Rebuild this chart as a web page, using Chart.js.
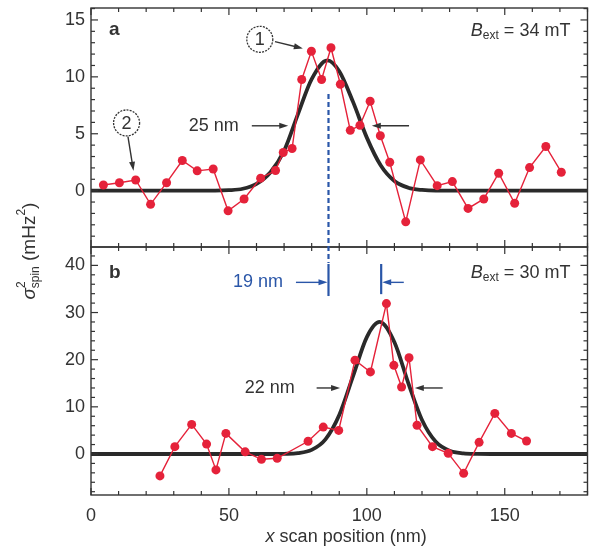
<!DOCTYPE html>
<html>
<head>
<meta charset="utf-8">
<script src="https://cdn.jsdelivr.net/npm/chart.js@4"></script>
<style>
  html, body { margin: 0; padding: 0; background: #fff; }
</style>
</head>
<body>
<canvas id="spin-chart" width="592" height="548"></canvas>
<script>
// panel a, B_ext = 34 mT
var aX = [4.5, 10.3, 16.2, 21.6, 27.4, 33.1, 38.5, 44.3, 49.7, 55.5, 61.5, 66.9, 69.7, 72.9, 76.4, 79.9, 83.6, 87.0, 90.4, 94.0, 97.5, 101.2, 104.9, 108.3, 114.1, 119.4, 125.5, 131.0, 136.7, 142.4, 147.8, 153.6, 159.0, 164.9, 170.5];
var aY = [0.5, 0.7, 0.94, -1.2, 0.7, 2.65, 1.74, 1.9, -1.77, -0.73, 1.1, 1.77, 3.35, 3.7, 9.77, 12.25, 9.77, 12.56, 9.35, 5.3, 5.74, 7.86, 4.83, 2.5, -2.74, 2.7, 0.44, 0.8, -1.56, -0.73, 1.53, -1.11, 2.03, 3.88, 1.62];
var aFitX = [0, 45, 50, 55, 60, 65, 70, 75, 80, 85.7, 90, 95, 100, 105, 110, 115, 120, 125, 180];
var aFitY = [0, 0, 0.04, 0.17, 0.6, 1.6, 3.5, 6.7, 9.8, 11.45, 10.5, 7.8, 4.66, 2.23, 0.85, 0.26, 0.06, 0, 0];

// panel b, B_ext = 30 mT
var bX = [25, 30.4, 36.5, 41.9, 45.3, 48.9, 55.9, 61.8, 67.5, 78.7, 84.2, 89.8, 95.7, 101.3, 107.1, 109.8, 112.6, 115.3, 118.2, 123.8, 129.5, 135.1, 140.7, 146.4, 152.4, 157.9];
var bY = [-4.65, 1.55, 6.27, 2.1, -3.38, 4.37, 0.45, -1.13, -0.92, 2.7, 5.7, 5.0, 19.9, 17.4, 31.9, 18.8, 14.2, 20.4, 6.1, 1.55, 0.14, -4.1, 2.47, 8.6, 4.37, 2.75];
var bFitX = [0, 65, 70, 75, 80, 85, 90, 95, 100, 104.6, 110, 115, 120, 125, 130, 135, 140, 145, 180];
var bFitY = [0, 0, 0.03, 0.18, 0.87, 3.1, 8.26, 16.5, 24.8, 28, 23.7, 15.1, 7.2, 2.58, 0.69, 0.14, 0.02, 0, 0];

// tick labels
var xTicks = [0, 50, 100, 150];
var aTicks = [0, 5, 10, 15];
var bTicks = [0, 10, 20, 30, 40];

var RED = "#e5223a";
var INK = "#333";
var BLUE = "#2a56a8";
var FONT = "'Liberation Sans', Arial, sans-serif";

function pts(xs, ys) {
  return xs.map(function (x, i) { return { x: x, y: ys[i] }; });
}

function fixTicks(list) {
  return function (scale) {
    scale.ticks = list.map(function (v) { return { value: v }; });
  };
}

// no extra room for the end labels, the frame is placed by layout.padding
function fitBox(w, h) {
  return function (s) {
    if (w) s.width = w;
    if (h) s.height = h;
    s.paddingTop = s.paddingBottom = s.paddingLeft = s.paddingRight = 0;
  };
}

function arrow(ctx, x0, y0, x1, y1, color) {
  var ang = Math.atan2(y1 - y0, x1 - x0);
  ctx.strokeStyle = color;
  ctx.fillStyle = color;
  ctx.lineWidth = 1.4;
  ctx.beginPath();
  ctx.moveTo(x0, y0);
  ctx.lineTo(x1 - 6 * Math.cos(ang), y1 - 6 * Math.sin(ang));
  ctx.stroke();
  ctx.beginPath();
  ctx.moveTo(x1, y1);
  ctx.lineTo(x1 - 9 * Math.cos(ang) + 3 * Math.sin(ang), y1 - 9 * Math.sin(ang) - 3 * Math.cos(ang));
  ctx.lineTo(x1 - 9 * Math.cos(ang) - 3 * Math.sin(ang), y1 - 9 * Math.sin(ang) + 3 * Math.cos(ang));
  ctx.closePath();
  ctx.fill();
}

function line(ctx, x0, y0, x1, y1) {
  ctx.beginPath();
  ctx.moveTo(x0, y0);
  ctx.lineTo(x1, y1);
  ctx.stroke();
}

// draw runs of [text, style] left to right, returns width
function runs(ctx, parts, x, y, measureOnly) {
  var w = 0;
  parts.forEach(function (p) {
    ctx.font = p.f;
    if (!measureOnly) ctx.fillText(p.t, x + w, y + (p.dy || 0));
    w += ctx.measureText(p.t).width;
  });
  return w;
}

function bLabel(val) {
  return [
    { t: "B", f: "italic 18px " + FONT },
    { t: "ext", f: "12px " + FONT, dy: 4 },
    { t: " = " + val + " mT", f: "18px " + FONT }
  ];
}

var framePlugin = {
  id: "frame",
  afterDatasetsDraw: function (chart) {
    var ctx = chart.ctx;
    var sx = chart.scales.x, sa = chart.scales.ya, sb = chart.scales.yb;
    var X = function (v) { return sx.getPixelForValue(v); };
    ctx.save();

    // frames and inward ticks
    ctx.strokeStyle = INK;
    ctx.lineWidth = 1.4;
    [sa, sb].forEach(function (s) {
      ctx.strokeRect(sx.left, s.top, sx.right - sx.left, s.bottom - s.top);
    });
    ctx.lineWidth = 1.2;
    for (var v = 0; v <= 180; v += 10) {
      var px = X(v), len = v % 50 === 0 ? 7 : 4;
      line(ctx, px, sa.top, px, sa.top + len);
      line(ctx, px, sa.bottom, px, sa.bottom - len);
      line(ctx, px, sb.top, px, sb.top + len);
      line(ctx, px, sb.bottom, px, sb.bottom - len);
    }
    for (var a = -4; a <= 16; a += 1) {
      var py = sa.getPixelForValue(a), la = a % 5 === 0 ? 7 : 4;
      line(ctx, sx.left, py, sx.left + la, py);
      line(ctx, sx.right, py, sx.right - la, py);
    }
    for (var b = -8; b <= 42; b += 2) {
      var qy = sb.getPixelForValue(b), lb = b % 10 === 0 ? 7 : 4;
      line(ctx, sx.left, qy, sx.left + lb, qy);
      line(ctx, sx.right, qy, sx.right - lb, qy);
    }

    // panel letters and field labels
    ctx.fillStyle = INK;
    ctx.textBaseline = "middle";
    ctx.font = "bold 19px " + FONT;
    ctx.fillText("a", X(6.5), sa.getPixelForValue(14.1));
    ctx.fillText("b", X(6.5), sb.getPixelForValue(38.5));
    [[bLabel(34), sa.getPixelForValue(14.0)], [bLabel(30), sb.getPixelForValue(38.3)]].forEach(function (l) {
      var w = runs(ctx, l[0], 0, 0, true);
      runs(ctx, l[0], X(173.8) - w, l[1]);
    });

    // FWHM markers
    ctx.font = "18px " + FONT;
    ctx.textAlign = "center";
    ctx.fillText("25 nm", X(44.5), sa.getPixelForValue(5.7));
    ctx.fillText("22 nm", X(64.8), sb.getPixelForValue(14));
    var ha = sa.getPixelForValue(5.7), hb = sb.getPixelForValue(14);
    arrow(ctx, X(58.3), ha, X(71.5), ha, INK);
    arrow(ctx, X(115.3), ha, X(101.8), ha, INK);
    arrow(ctx, X(81.8), hb, X(90.3), hb, INK);
    arrow(ctx, X(127.5), hb, X(117.4), hb, INK);

    // peak shift, 19 nm
    var xa = X(86.1), xb = X(105.2);
    ctx.strokeStyle = BLUE;
    ctx.lineWidth = 2.2;
    ctx.setLineDash([5, 3]);
    line(ctx, xa, sa.getPixelForValue(8.5), xa, sb.getPixelForValue(40.5));
    ctx.setLineDash([]);
    line(ctx, xa, sb.getPixelForValue(40.3), xa, sb.getPixelForValue(33.5));
    line(ctx, xb, sb.getPixelForValue(40.3), xb, sb.getPixelForValue(33.9));
    var hs = sb.getPixelForValue(36.4);
    arrow(ctx, X(74.3), hs, xa - 1, hs, BLUE);
    arrow(ctx, X(113.4), hs, xb + 1, hs, BLUE);
    ctx.fillStyle = BLUE;
    ctx.textAlign = "right";
    ctx.fillText("19 nm", X(69.6), hs);

    // circled labels
    ctx.textAlign = "center";
    ctx.fillStyle = INK;
    [["1", 61.2, 13.3, 66.7, 13.1, 76.8, 12.5], ["2", 12.9, 5.95, 13.4, 4.75, 15.4, 1.75]].forEach(function (c) {
      var cx = X(c[1]), cy = sa.getPixelForValue(c[2]);
      ctx.strokeStyle = INK;
      ctx.lineWidth = 1.3;
      ctx.setLineDash([2, 1.2]);
      ctx.beginPath();
      ctx.arc(cx, cy, 13, 0, Math.PI * 2);
      ctx.stroke();
      ctx.setLineDash([]);
      ctx.font = "18px " + FONT;
      ctx.fillText(c[0], cx, cy + 1);
      arrow(ctx, X(c[3]), sa.getPixelForValue(c[4]), X(c[5]), sa.getPixelForValue(c[6]), INK);
    });

    // axis titles
    ctx.textAlign = "left";
    var xt = [
      { t: "x", f: "italic 18px " + FONT },
      { t: " scan position (nm)", f: "18px " + FONT }
    ];
    var wx = runs(ctx, xt, 0, 0, true);
    runs(ctx, xt, X(92.5) - wx / 2, 537);

    var yt = [
      { t: "\u03c3", f: "italic 19px " + FONT },
      { t: "2", f: "12px " + FONT, dy: -8 }
    ];
    ctx.translate(30, 251);
    ctx.rotate(-Math.PI / 2);
    var w1 = runs(ctx, yt, 0, 0, true);
    ctx.font = "12px " + FONT;
    var ws = ctx.measureText("spin").width;
    var rest = [
      { t: " (mHz", f: "19px " + FONT },
      { t: "2", f: "12px " + FONT, dy: -8 },
      { t: ")", f: "19px " + FONT }
    ];
    var w2 = runs(ctx, rest, 0, 0, true);
    var x0 = -(w1 - 7 + ws + w2) / 2;
    runs(ctx, yt, x0, 0);
    ctx.font = "12px " + FONT;
    ctx.fillText("spin", x0 + w1 - 7, 6);
    runs(ctx, rest, x0 + w1 - 7 + ws, 0);

    ctx.restore();
  }
};

var ctx = document.getElementById("spin-chart").getContext("2d");
var mySpinChart = new Chart(ctx, {
  type: "line",
  data: {
    datasets: [
      {
        data: pts(aX, aY), yAxisID: "ya", order: 0,
        borderColor: RED, backgroundColor: RED, borderWidth: 1.4,
        pointRadius: 4.5, pointBorderWidth: 0, tension: 0
      },
      {
        data: pts(bX, bY), yAxisID: "yb", order: 0,
        borderColor: RED, backgroundColor: RED, borderWidth: 1.4,
        pointRadius: 4.5, pointBorderWidth: 0, tension: 0
      },
      {
        data: pts(aFitX, aFitY), yAxisID: "ya", order: 1,
        borderColor: "#2a2a2a", borderWidth: 3.8, pointRadius: 0,
        cubicInterpolationMode: "monotone"
      },
      {
        data: pts(bFitX, bFitY), yAxisID: "yb", order: 1,
        borderColor: "#2a2a2a", borderWidth: 3.8, pointRadius: 0,
        cubicInterpolationMode: "monotone"
      }
    ]
  },
  options: {
    responsive: false,
    animation: false,
    layout: { padding: { top: 8, right: 3, left: 0, bottom: 0 } },
    plugins: { legend: { display: false }, tooltip: { enabled: false } },
    scales: {
      x: {
        type: "linear", min: 0, max: 180,
        grid: { display: false, drawTicks: false },
        border: { display: false },
        afterBuildTicks: fixTicks(xTicks),
        afterFit: fitBox(0, 53),
        ticks: { padding: 10, color: INK, font: { family: FONT, size: 18 } }
      },
      yb: {
        type: "linear", position: "left", stack: "panels", stackWeight: 248,
        min: -8.7, max: 43.9,
        grid: { display: false, drawTicks: false },
        border: { display: false },
        afterBuildTicks: fixTicks(bTicks),
        afterFit: fitBox(91, 0),
        ticks: { padding: 6, color: INK, font: { family: FONT, size: 18 } }
      },
      ya: {
        type: "linear", position: "left", stack: "panels", stackWeight: 239,
        min: -4.95, max: 16.05,
        grid: { display: false, drawTicks: false },
        border: { display: false },
        afterBuildTicks: fixTicks(aTicks),
        afterFit: fitBox(91, 0),
        ticks: { padding: 6, color: INK, font: { family: FONT, size: 18 } }
      }
    }
  },
  plugins: [framePlugin]
});
</script>
</body>
</html>
